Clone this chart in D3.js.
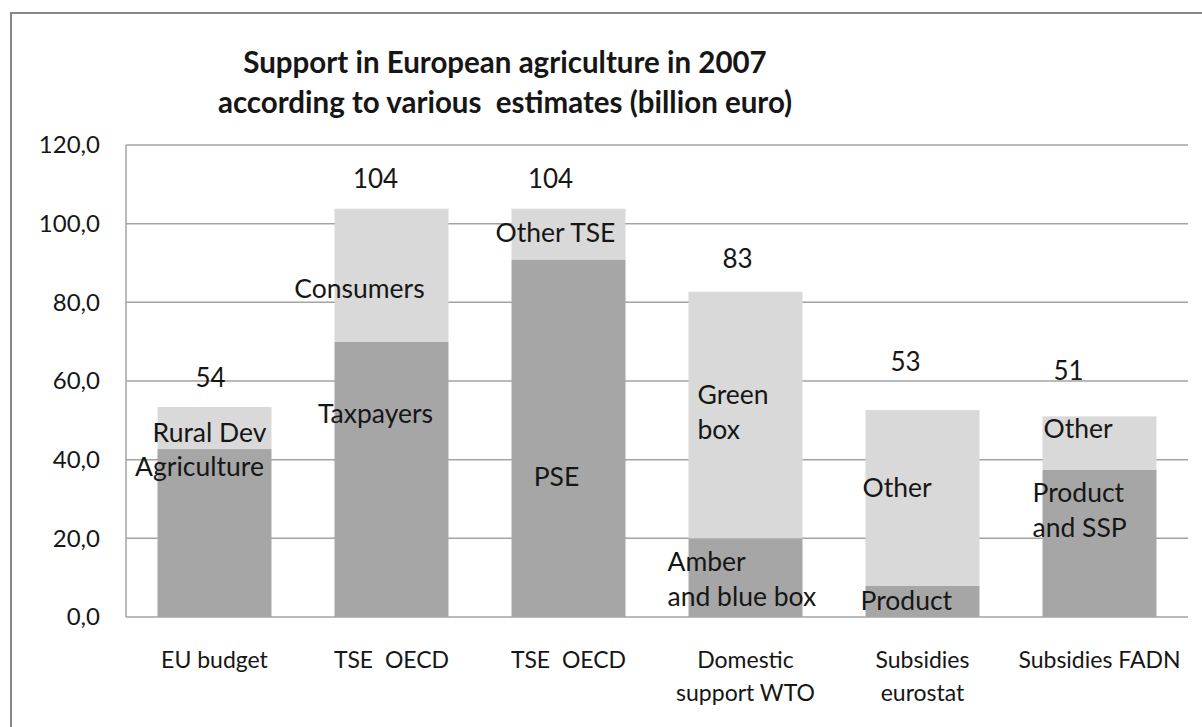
<!DOCTYPE html>
<html>
<head>
<meta charset="utf-8">
<script src="https://cdn.jsdelivr.net/npm/d3@7"></script>
<style>
  body { margin: 0; background: #fff; }
  text { font-family: Lato, "Noto Sans", sans-serif; fill: #161616; }
</style>
</head>
<body>
<script>
// data (billion euro)
var categories = [["EU budget"], ["TSE  OECD"], ["TSE  OECD"], ["Domestic", "support WTO"], ["Subsidies", "eurostat"], ["Subsidies FADN"]];
var bottomValues = [42.7, 70.0, 90.9, 20.0, 8.0, 37.4];
var topValues = [10.7, 33.8, 12.9, 62.7, 44.6, 13.6];
var totalLabels = ["54", "104", "104", "83", "53", "51"];
var yTicks = [0, 20, 40, 60, 80, 100, 120];

// segment captions: [bar index, lines, anchor, dx from bar centre, y value of first line]
var captions = [
  [0, ["Agriculture"], "middle", -15, 38.1],
  [0, ["Rural Dev"], "middle", -5, 46.8],
  [1, ["Taxpayers"], "middle", -16, 51.6],
  [1, ["Consumers"], "middle", -32, 83.4],
  [2, ["PSE"], "middle", -12, 35.6],
  [2, ["Other TSE"], "middle", -13, 97.6],
  [3, ["Green", "box"], "start", -48, 56.4],
  [3, ["Amber", "and blue box"], "start", -78, 14.0],
  [4, ["Other"], "start", -60, 32.8],
  [4, ["Product"], "start", -62, 4.1],
  [5, ["Other"], "start", -56, 47.8],
  [5, ["Product", "and SSP"], "start", -67, 31.5]
];
var totalNudge = [-4, -16, -18, -8, -17, -31];
var totalLift = [29, 30, 30, 33, 48, 46];

var svg = d3.select("body").append("svg").attr("width", 1202).attr("height", 727);

svg.append("rect").attr("x", 11).attr("y", 13).attr("width", 1200).attr("height", 730)
    .attr("fill", "none").attr("stroke", "#878787").attr("stroke-width", 2);

var plotLeft = 126, plotRight = 1188, plotTop = 145, plotBottom = 617;

var x = d3.scaleBand().domain(d3.range(categories.length)).range([plotLeft, plotRight])
    .paddingInner(0.356).paddingOuter(0.178);
var y = d3.scaleLinear().domain([0, 120]).range([plotBottom, plotTop]);

// gridlines
svg.selectAll("line.grid").data(yTicks).enter().append("line")
    .attr("class", "grid")
    .attr("x1", plotLeft).attr("x2", plotRight)
    .attr("y1", function(d) { return y(d); }).attr("y2", function(d) { return y(d); })
    .attr("stroke", "#a3a3a3").attr("stroke-width", 1.5);

svg.append("line").attr("x1", plotLeft).attr("x2", plotLeft).attr("y1", plotTop).attr("y2", plotBottom)
    .attr("stroke", "#a3a3a3").attr("stroke-width", 1.5);

svg.selectAll("text.tick").data(yTicks).enter().append("text")
    .attr("class", "tick")
    .attr("x", 100).attr("y", function(d) { return y(d); })
    .attr("dy", "0.35em").attr("text-anchor", "end")
    .style("font-size", "24px")
    .text(function(d) { return d3.format(".1f")(d).replace(".", ","); });

// bars
svg.selectAll("rect.bottom").data(bottomValues).enter().append("rect")
    .attr("class", "bottom")
    .attr("x", function(d, i) { return x(i); })
    .attr("width", x.bandwidth())
    .attr("y", function(d) { return y(d); })
    .attr("height", function(d) { return y(0) - y(d); })
    .attr("fill", "#a6a6a6");

svg.selectAll("rect.top").data(topValues).enter().append("rect")
    .attr("class", "top")
    .attr("x", function(d, i) { return x(i); })
    .attr("width", x.bandwidth())
    .attr("y", function(d, i) { return y(d + bottomValues[i]); })
    .attr("height", function(d) { return y(0) - y(d); })
    .attr("fill", "#d9d9d9");

// totals above bars
svg.selectAll("text.total").data(totalLabels).enter().append("text")
    .attr("class", "total")
    .attr("x", function(d, i) { return x(i) + x.bandwidth() / 2 + totalNudge[i]; })
    .attr("y", function(d, i) { return y(bottomValues[i] + topValues[i]) - totalLift[i]; })
    .attr("dy", "0.35em").attr("text-anchor", "middle")
    .style("font-size", "26px")
    .text(function(d) { return d; });

// segment captions
var cap = svg.selectAll("text.cap").data(captions).enter().append("text")
    .attr("class", "cap")
    .attr("text-anchor", function(d) { return d[2]; })
    .style("font-size", "26.5px");
cap.selectAll("tspan").data(function(d) {
      return d[1].map(function(s, k) { return { s: s, k: k, c: d }; });
    }).enter().append("tspan")
    .attr("x", function(t) { return x(t.c[0]) + x.bandwidth() / 2 + t.c[3]; })
    .attr("y", function(t) { return y(t.c[4]) + t.k * 35; })
    .attr("dy", "0.35em")
    .text(function(t) { return t.s; });

// category labels
var cat = svg.selectAll("text.cat").data(categories).enter().append("text")
    .attr("class", "cat")
    .attr("text-anchor", "middle")
    .attr("xml:space", "preserve")
    .style("white-space", "pre")
    .style("font-size", "23px");
cat.selectAll("tspan").data(function(d, i) {
      return d.map(function(s, k) { return { s: s, k: k, i: i }; });
    }).enter().append("tspan")
    .attr("x", function(t) { return x(t.i) + x.bandwidth() / 2; })
    .attr("y", function(t) { return 660 + t.k * 33; })
    .attr("dy", "0.35em")
    .text(function(t) { return t.s; });

// title
svg.append("text").attr("x", 505).attr("y", 63).attr("dy", "0.35em")
    .attr("text-anchor", "middle").style("font-size", "29.5px").style("font-weight", "bold")
    .text("Support in European agriculture in 2007");
svg.append("text").attr("x", 505).attr("y", 103).attr("dy", "0.35em")
    .attr("text-anchor", "middle").style("font-size", "29.5px").style("font-weight", "bold")
    .attr("xml:space", "preserve").style("white-space", "pre")
    .text("according to various  estimates (billion euro)");
</script>
</body>
</html>
